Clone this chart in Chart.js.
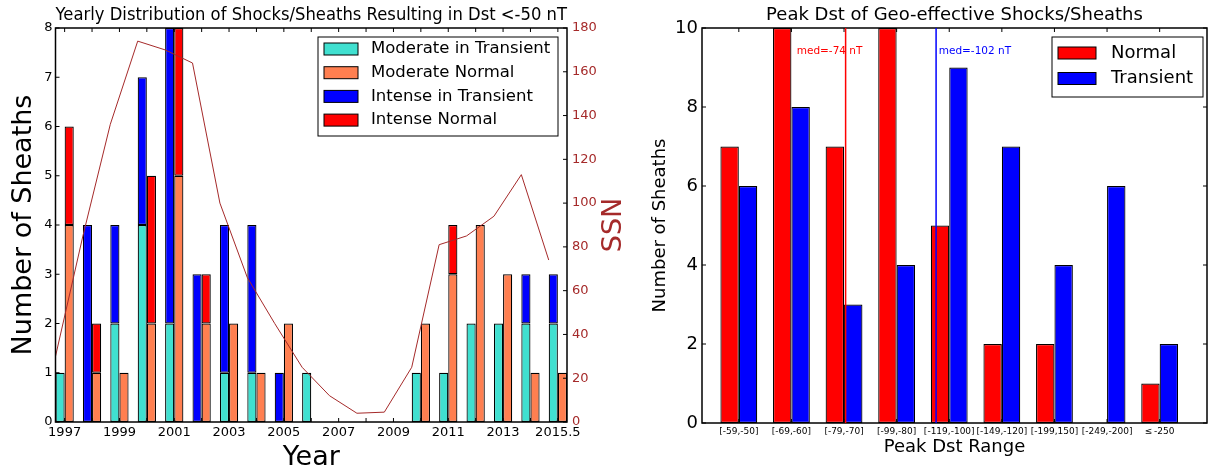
<!DOCTYPE html>
<html lang="en">
<head>
    <meta charset="UTF-8">
    <title>Shocks/Sheaths and Peak Dst</title>
    <script src="https://cdn.jsdelivr.net/npm/chart.js"></script>
    <style>
        body {
            margin: 0;
            background: #fff;
            font-family: "DejaVu Sans", sans-serif;
        }
        .panel {
            position: absolute;
            top: 0;
            height: 467px;
        }
        #left-panel { left: 0; width: 640px; }
        #right-panel { left: 640px; width: 568px; }
    </style>
</head>
<body>

    <div class="panel" id="left-panel"><canvas id="shocksChart"></canvas></div>
    <div class="panel" id="right-panel"><canvas id="dstChart"></canvas></div>

    <script>
        // Left panel data: yearly counts, split into transient / normal stacks
        const years = [1997, 1998, 1999, 2000, 2001, 2002, 2003, 2004, 2005, 2006,
                       2007, 2008, 2009, 2010, 2011, 2012, 2013, 2014, 2015];
        const modTransient = [1, 0, 2, 4, 2, 0, 1, 1, 0, 1, 0, 0, 0, 1, 1, 2, 2, 2, 2];
        const modNormal    = [4, 1, 1, 2, 5, 2, 2, 1, 2, 0, 0, 0, 0, 2, 3, 4, 3, 1, 1];
        const intTransient = [0, 4, 2, 3, 6, 3, 3, 3, 1, 0, 0, 0, 0, 0, 0, 0, 0, 1, 1];
        const intNormal    = [2, 1, 0, 3, 3, 1, 0, 0, 0, 0, 0, 0, 0, 0, 1, 0, 0, 0, 0];
        const ssn = [30, 85, 136, 174, 170, 164, 100, 66, 45, 25, 12, 4, 4.5, 25, 81, 85, 94, 113, 74];
        const yearTickAt = [1997, 1999, 2001, 2003, 2005, 2007, 2009, 2011, 2013, 2015];
        const yearTickLabels = ['1997', '1999', '2001', '2003', '2005', '2007', '2009', '2011', '2013', '2015.5'];

        // Right panel data: peak Dst histogram
        const dstRanges = ['[-59,-50]', '[-69,-60]', '[-79,-70]', '[-99,-80]', '[-119,-100]',
                           '[-149,-120]', '[-199,150]', '[-249,-200]', '\u2264\u2009-250'];
        const normalCounts    = [7, 10, 7, 10, 5, 2, 2, 0, 1];
        const transientCounts = [6, 8, 3, 4, 9, 7, 4, 6, 2];
        const medNormal = -74;
        const medTransient = -102;
        const medNormalPos = 2.03;     // where the median falls on the range axis
        const medTransientPos = 3.75;

        const barWidth = 1 / 3;        // width of one bar, in years
        const brown = '#A52A2A';
        const FONT = '"DejaVu Sans", sans-serif';

        Chart.defaults.font.family = FONT;
        Chart.defaults.color = '#000';

        // matplotlib style: box round the plot and ticks pointing inward
        const frameTicks = {
            id: 'frameTicks',
            afterDatasetsDraw(chart, args, opts) {
                const { ctx, chartArea: a } = chart;
                const len = 4;
                ctx.save();
                ctx.strokeStyle = '#000';
                ctx.lineWidth = 1;
                ctx.beginPath();
                for (const id of Object.keys(opts.sides)) {
                    const scale = chart.scales[id];
                    for (const t of scale.ticks) {
                        const p = scale.getPixelForValue(t.value);
                        for (const side of opts.sides[id]) {
                            if (side === 'top') { ctx.moveTo(p, a.top); ctx.lineTo(p, a.top + len); }
                            if (side === 'bottom') { ctx.moveTo(p, a.bottom); ctx.lineTo(p, a.bottom - len); }
                            if (side === 'left') { ctx.moveTo(a.left, p); ctx.lineTo(a.left + len, p); }
                            if (side === 'right') { ctx.moveTo(a.right, p); ctx.lineTo(a.right - len, p); }
                        }
                    }
                }
                ctx.stroke();
                ctx.lineWidth = 1.5;
                ctx.strokeRect(a.left, a.top, a.right - a.left, a.bottom - a.top);
                ctx.restore();
            }
        };

        // legend in a bordered box, built from the bar datasets
        const boxLegend = {
            id: 'boxLegend',
            afterDraw(chart, args, o) {
                const ctx = chart.ctx;
                const items = chart.data.datasets.filter(d => d.type !== 'line');
                ctx.save();
                ctx.fillStyle = '#fff';
                ctx.fillRect(o.left, o.top, o.width, o.height);
                ctx.strokeStyle = '#000';
                ctx.lineWidth = 1;
                ctx.strokeRect(o.left, o.top, o.width, o.height);
                ctx.font = o.fontSize + 'px ' + FONT;
                ctx.textBaseline = 'middle';
                items.forEach((d, i) => {
                    const y = o.firstRow + i * o.rowGap;
                    ctx.fillStyle = d.backgroundColor;
                    ctx.fillRect(o.left + o.swatchX, y - o.swatchH / 2, o.swatchW, o.swatchH);
                    ctx.strokeRect(o.left + o.swatchX, y - o.swatchH / 2, o.swatchW, o.swatchH);
                    ctx.fillStyle = '#000';
                    ctx.fillText(d.label, o.left + o.textX, y);
                });
                ctx.restore();
            }
        };

        // right axis title reading bottom to top
        const sideTitle = {
            id: 'sideTitle',
            afterDraw(chart, args, o) {
                const { ctx, chartArea: a } = chart;
                ctx.save();
                ctx.translate(a.right + o.offset, (a.top + a.bottom) / 2);
                ctx.rotate(-Math.PI / 2);
                ctx.font = o.size + 'px ' + FONT;
                ctx.fillStyle = o.color;
                ctx.textAlign = 'center';
                ctx.textBaseline = 'middle';
                ctx.fillText(o.text, 0, 0);
                ctx.restore();
            }
        };

        // median markers on the histogram
        const medianLines = {
            id: 'medianLines',
            afterDatasetsDraw(chart, args, o) {
                const { ctx, chartArea: a, scales: { x, y } } = chart;
                ctx.save();
                ctx.font = '10.5px ' + FONT;
                ctx.textBaseline = 'middle';
                o.lines.forEach(m => {
                    const px = x.getPixelForValue(m.at);
                    ctx.strokeStyle = m.color;
                    ctx.lineWidth = 1.5;
                    ctx.beginPath();
                    ctx.moveTo(px, a.top);
                    ctx.lineTo(px, a.bottom);
                    ctx.stroke();
                    ctx.fillStyle = m.color;
                    ctx.fillText(m.text, x.getPixelForValue(m.labelAt), y.getPixelForValue(o.textY));
                });
                ctx.restore();
            }
        };

        function yearBars(label, values, color, stack) {
            return {
                label: label,
                data: years.map((yr, i) => ({ x: yr, y: values[i] || null })),
                backgroundColor: color,
                borderColor: '#000',
                borderWidth: 1.2,
                borderSkipped: false,
                stack: stack,
                categoryPercentage: 2 * barWidth,
                barPercentage: 1
            };
        }

        const noGrid = { display: false, drawTicks: false };

        // Left chart: stacked yearly bars + sunspot number
        new Chart(document.getElementById('shocksChart'), {
            type: 'bar',
            data: {
                datasets: [
                    {
                        type: 'line',
                        label: 'SSN',
                        data: years.map((yr, i) => ({ x: yr - barWidth, y: ssn[i] })),
                        yAxisID: 'y2',
                        borderColor: brown,
                        borderWidth: 1,
                        pointRadius: 0,
                        fill: false,
                        order: -1
                    },
                    yearBars('Moderate in Transient', modTransient, '#40E0D0', 'transient'),
                    yearBars('Moderate Normal', modNormal, '#FF7F50', 'normal'),
                    yearBars('Intense in Transient', intTransient, '#0000FF', 'transient'),
                    yearBars('Intense Normal', intNormal, '#FF0000', 'normal')
                ]
            },
            options: {
                responsive: true,
                maintainAspectRatio: false,
                animation: false,
                layout: { padding: 0 },
                scales: {
                    x: {
                        type: 'linear',
                        min: years[0] - barWidth,
                        max: years[years.length - 1] + barWidth,
                        offset: false,
                        grid: noGrid,
                        border: { display: false },
                        afterBuildTicks: s => { s.ticks = years.map(v => ({ value: v })); },
                        ticks: {
                            autoSkip: false, maxRotation: 0, minRotation: 0, padding: 3,
                            font: { size: 13 },
                            callback: v => {
                                const k = yearTickAt.indexOf(v);
                                return k >= 0 ? yearTickLabels[k] : '';
                            }
                        },
                        title: {
                            display: true, text: 'Year',
                            font: { size: 27, lineHeight: 1 },
                            padding: { top: 0, bottom: -4.5 }
                        },
                        afterFit: s => { s.height = 45; }
                    },
                    y: {
                        type: 'linear',
                        position: 'left',
                        stacked: true,
                        min: 0,
                        max: 8,
                        grid: noGrid,
                        border: { display: false },
                        ticks: { stepSize: 1, padding: 3, font: { size: 13 } },
                        title: {
                            display: true, text: 'Number of Sheaths',
                            font: { size: 27, lineHeight: 1 },
                            padding: { top: 10, bottom: 0 }
                        },
                        afterFit: s => { s.width = 55.5; }
                    },
                    y2: {
                        type: 'linear',
                        position: 'right',
                        min: 0,
                        max: 180,
                        grid: noGrid,
                        border: { display: false },
                        ticks: { stepSize: 20, padding: 5, color: brown, font: { size: 13 } },
                        afterFit: s => { s.width = 73; }
                    }
                },
                plugins: {
                    legend: { display: false },
                    tooltip: { enabled: false },
                    title: {
                        display: true,
                        text: 'Yearly Distribution of Shocks/Sheaths Resulting in Dst <-50 nT',
                        font: { size: 18, weight: 'normal' },
                        color: '#000',
                        fullSize: false,
                        padding: { top: 5, bottom: 1.4 }
                    },
                    frameTicks: { sides: { x: ['top', 'bottom'], y: ['left'], y2: ['right'] } },
                    boxLegend: {
                        left: 318, top: 37, width: 240, height: 99,
                        firstRow: 49, rowGap: 23.7,
                        swatchX: 6, swatchW: 34, swatchH: 12,
                        textX: 53, fontSize: 16.5
                    },
                    sideTitle: { text: 'SSN', offset: 46.5, size: 27, color: brown }
                }
            },
            plugins: [frameTicks, boxLegend, sideTitle]
        });

        // Right chart: histogram of peak Dst
        function rangeBars(label, values, color) {
            return {
                label: label,
                data: dstRanges.map((r, i) => ({ x: i, y: values[i] || null })),
                backgroundColor: color,
                borderColor: '#000',
                borderWidth: 1.2,
                borderSkipped: false,
                categoryPercentage: 0.7,
                barPercentage: 1
            };
        }

        new Chart(document.getElementById('dstChart'), {
            type: 'bar',
            data: {
                datasets: [
                    rangeBars('Normal', normalCounts, '#FF0000'),
                    rangeBars('Transient', transientCounts, '#0000FF')
                ]
            },
            options: {
                responsive: true,
                maintainAspectRatio: false,
                animation: false,
                layout: { padding: { right: 1 } },
                scales: {
                    x: {
                        type: 'linear',
                        min: -0.7,
                        max: 8.9,
                        offset: false,
                        grid: noGrid,
                        border: { display: false },
                        afterBuildTicks: s => { s.ticks = dstRanges.map((r, i) => ({ value: i })); },
                        ticks: {
                            autoSkip: false, maxRotation: 0, minRotation: 0, padding: 3,
                            font: { size: 9 },
                            callback: v => dstRanges[v]
                        },
                        title: {
                            display: true, text: 'Peak Dst Range',
                            font: { size: 18, lineHeight: 1 },
                            padding: { top: 0, bottom: 10.2 }
                        },
                        afterFit: s => { s.height = 44; }
                    },
                    y: {
                        type: 'linear',
                        min: 0,
                        max: 10,
                        grid: noGrid,
                        border: { display: false },
                        ticks: { stepSize: 2, padding: 4, font: { size: 18 } },
                        title: {
                            display: true, text: 'Number of Sheaths',
                            font: { size: 18, lineHeight: 1 },
                            padding: { top: 11.8, bottom: 0 }
                        },
                        afterFit: s => { s.width = 62; }
                    }
                },
                plugins: {
                    legend: { display: false },
                    tooltip: { enabled: false },
                    title: {
                        display: true,
                        text: 'Peak Dst of Geo-effective Shocks/Sheaths',
                        font: { size: 18, weight: 'normal' },
                        color: '#000',
                        fullSize: false,
                        padding: { top: 5, bottom: 1.4 }
                    },
                    frameTicks: { sides: { x: ['top', 'bottom'], y: ['left', 'right'] } },
                    medianLines: {
                        textY: 9.4,
                        lines: [
                            { at: medNormalPos, labelAt: 1.1, color: '#FF0000', text: 'med=' + medNormal + ' nT' },
                            { at: medTransientPos, labelAt: 3.8, color: '#0000FF', text: 'med=' + medTransient + ' nT' }
                        ]
                    },
                    boxLegend: {
                        left: 412, top: 37, width: 151, height: 60,
                        firstRow: 53, rowGap: 25.5,
                        swatchX: 6, swatchW: 38, swatchH: 12,
                        textX: 59, fontSize: 18
                    }
                }
            },
            plugins: [frameTicks, medianLines, boxLegend]
        });
    </script>
</body>
</html>
